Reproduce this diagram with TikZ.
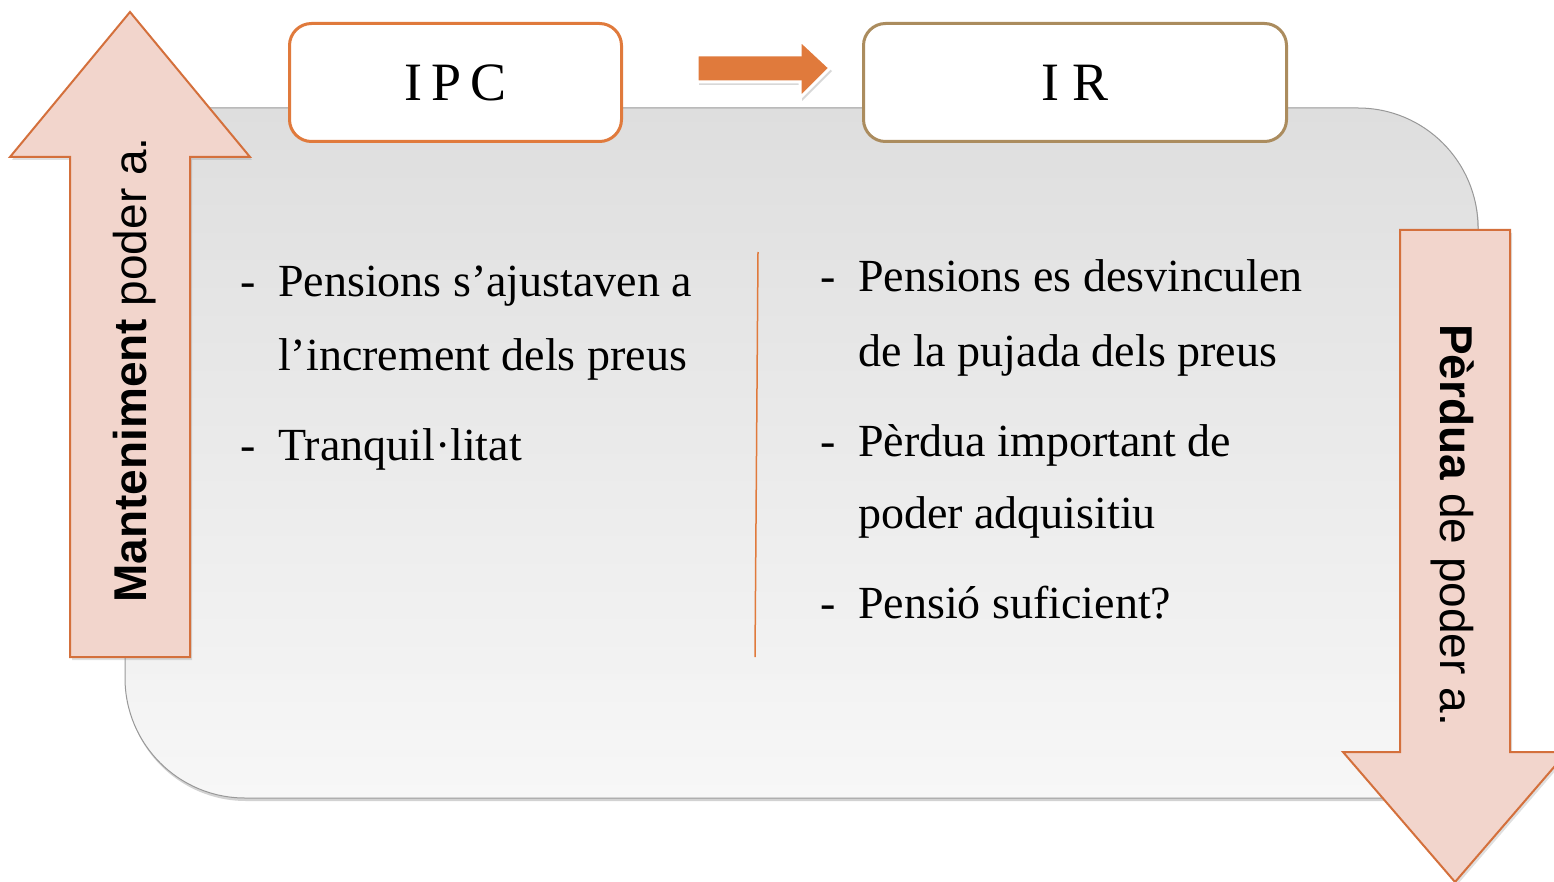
\documentclass[tikz,border=0pt]{standalone}
\usepackage{fontspec}
\setmainfont{Liberation Serif}
\newfontfamily\sansf{Liberation Sans}
\usetikzlibrary{shadows}
\definecolor{arrowfill}{HTML}{F2D5CC}
\definecolor{arrowline}{HTML}{D4703C}
\definecolor{orangeA}{HTML}{E07A3C}
\definecolor{tanline}{HTML}{AB8C5E}
\definecolor{panelTop}{HTML}{DEDEDE}
\definecolor{panelBot}{HTML}{F7F7F7}
\tikzset{
  bigarrow/.style={fill=arrowfill, draw=arrowline, line width=2pt, line join=miter,
    drop shadow={opacity=0.25, shadow xshift=2pt, shadow yshift=-3pt}},
  titlebox/.style={draw, fill=white, line width=3pt, rounded corners=22pt},
  titletext/.style={font=\fontsize{54}{60}\selectfont},
  bullettext/.style={anchor=base west, font=\fontsize{46}{52}\selectfont, inner sep=0pt},
  dashtext/.style={anchor=base west, font=\fontsize{46}{52}\selectfont, inner sep=0pt},
  sidetext/.style={anchor=base, font=\sansf\fontsize{46}{52}\selectfont, inner sep=0pt},
}
\begin{document}
\begin{tikzpicture}[x=1pt,y=-1pt]
\useasboundingbox (0,0) rectangle (1554,882);
\clip (0,0) rectangle (1554,882);
\fill[white] (0,0) rectangle (1554,882);
% main panel
\path[top color=panelTop, bottom color=panelBot, draw=gray!80, line width=1pt,
  drop shadow={opacity=0.35, shadow xshift=1pt, shadow yshift=-3pt}]
  (125,108) -- (1358,108) .. controls (1424.3,108) and (1478,161.7) .. (1478,228)
  -- (1478,798) -- (245,798) .. controls (178.7,798) and (125,744.3) .. (125,678) -- cycle;
% left up arrow
\path[bigarrow] (130,12) -- (250,157) -- (190,157) -- (190,657) -- (70,657) -- (70,157) -- (10,157) -- cycle;
% right down arrow
\path[bigarrow] (1400,230) -- (1510,230) -- (1510,752) -- (1567,752) -- (1455,882) -- (1343,752) -- (1400,752) -- cycle;
% title boxes
\node[titlebox, draw=orangeA, minimum width=332pt, minimum height=118pt, anchor=north west, inner sep=0pt] (ipc) at (288,22) {};
\node[titletext] (ipct) at (ipc.center) {{\spaceskip=9pt I P C}};
\node[titlebox, draw=tanline, minimum width=423pt, minimum height=118pt, anchor=north west, inner sep=0pt] (ir) at (862,22) {};
\node[titletext] (irt) at (ir.center) {{\spaceskip=14pt I R}};
% small arrow between boxes
\path[fill=orangeA, draw=white, line width=3pt, line join=miter,
  drop shadow={opacity=0.3, shadow xshift=2pt, shadow yshift=-3pt}]
  (697,55) -- (800,55) -- (800,40) -- (830,68) -- (800,98) -- (800,82) -- (697,82) -- cycle;
% divider
\coordinate (dtop) at (758,252);
\coordinate (dbot) at (755,657);
\draw[orangeA, line width=1.5pt] (dtop) -- (dbot);
% left bullets
\node[dashtext] (ld1) at (240,297) {-};
\node[bullettext] (l1) at (278,297) {Pensions s’ajustaven a};
\node[bullettext] (l2) at (278,370) {l’increment dels preus};
\node[dashtext] (ld2) at (240,460) {-};
\node[bullettext] (l3) at (278,460) {Tranquil·litat};
% right bullets
\node[dashtext] (rd1) at (820,292) {-};
\node[bullettext] (r1) at (858,292) {Pensions es desvinculen};
\node[bullettext] (r2) at (858,366) {de la pujada dels preus};
\node[dashtext] (rd2) at (820,456) {-};
\node[bullettext] (r3) at (858,456) {Pèrdua important de};
\node[bullettext] (r4) at (858,528) {poder adquisitiu};
\node[dashtext] (rd3) at (820,618) {-};
\node[bullettext] (r5) at (858,618) {Pensió suficient?};
% side labels
\node[sidetext, rotate=90] (lside) at (146,370) {\textbf{Manteniment} poder a.};
\node[sidetext, rotate=-90] (rside) at (1440,525) {\textbf{Pèrdua} de poder a.};
\end{tikzpicture}
\end{document}
